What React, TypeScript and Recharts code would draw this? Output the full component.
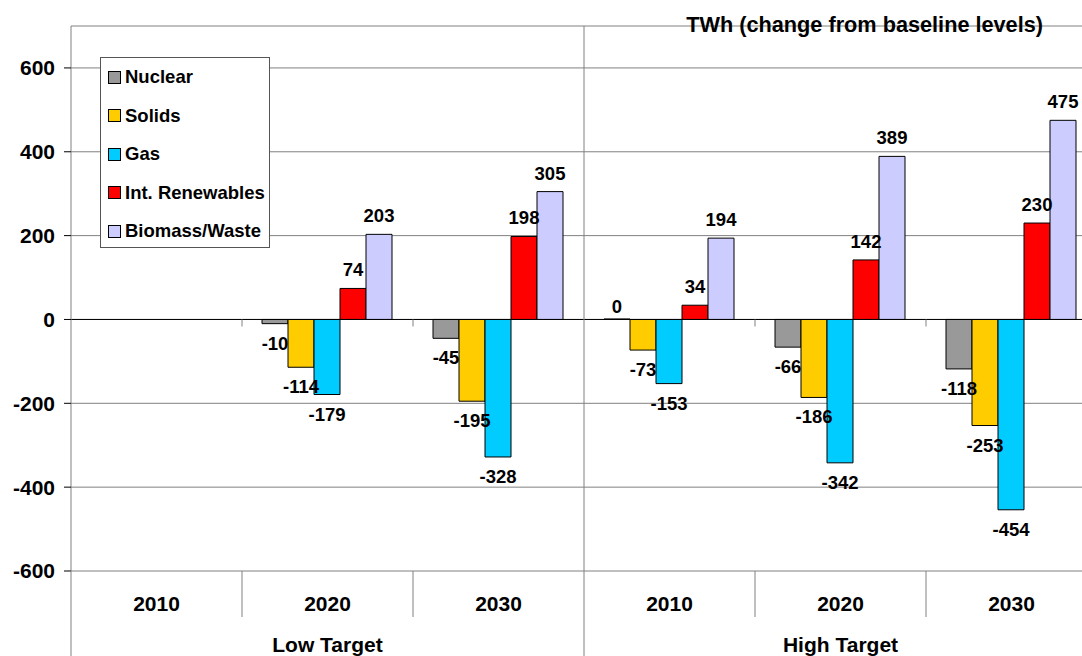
import { BarChart, Bar, XAxis, YAxis, CartesianGrid, ReferenceLine, LabelList } from 'recharts';

// categories
const YEARS = ['2010', '2020', '2030', '2010', '2020', '2030'];
const GROUPS = ['Low Target', 'High Target'];

// series values, TWh change from baseline (null = no bar)
const NUCLEAR = [null, -10, -45, 0, -66, -118];
const SOLIDS = [null, -114, -195, -73, -186, -253];
const GAS = [null, -179, -328, -153, -342, -454];
const RENEWABLES = [null, 74, 198, 34, 142, 230];
const BIOMASS = [null, 203, 305, 194, 389, 475];

const Y_TICKS = [-600, -400, -200, 0, 200, 400, 600];
const Y_DOMAIN = [-600, 700];

const SERIES = [
  { key: 'nuclear', name: 'Nuclear', color: '#999999', values: NUCLEAR },
  { key: 'solids', name: 'Solids', color: '#FFCC00', values: SOLIDS },
  { key: 'gas', name: 'Gas', color: '#00CCFF', values: GAS },
  { key: 'renew', name: 'Int. Renewables', color: '#FF0000', values: RENEWABLES },
  { key: 'biomass', name: 'Biomass/Waste', color: '#CCCCFF', values: BIOMASS },
];

const data = YEARS.map((year, i) => {
  const row: any = { id: `c${i}`, year };
  SERIES.forEach((s) => { row[s.key] = s.values[i]; });
  return row;
});

const FONT = '"Liberation Sans", Arial, sans-serif';
const CHART_W = 1110;
const CHART_H = 656;
const MARGIN = { top: 26, right: 13, left: 0, bottom: 0 };
const Y_AXIS_W = 71;
const X_AXIS_H = 85;
const PLOT_TOP = MARGIN.top;
const PLOT_H = CHART_H - MARGIN.top - X_AXIS_H;
const PLOT_W = CHART_W - MARGIN.left - MARGIN.right - Y_AXIS_W;
const BAND = PLOT_W / YEARS.length;
const ZERO_Y = PLOT_TOP + (Y_DOMAIN[1] / (Y_DOMAIN[1] - Y_DOMAIN[0])) * PLOT_H;

const CategoryTick = (props: any) => {
  const { x, y, payload } = props;
  const i = payload.index;
  const left = x - BAND / 2;
  const groupStart = i % 3 === 0;
  return (
    <g>
      {groupStart ? (
        <line x1={left} x2={left} y1={i === 0 ? y : PLOT_TOP} y2={CHART_H} stroke="#808080" />
      ) : (
        <>
          <line x1={left} x2={left} y1={y} y2={y + 46} stroke="#808080" />
          <line x1={left} x2={left} y1={ZERO_Y} y2={ZERO_Y + 7} stroke="#808080" />
        </>
      )}
      <text x={x} y={y + 40} textAnchor="middle" fontSize={21} fontWeight="bold" fontFamily={FONT} fill="#000">
        {YEARS[i]}
      </text>
      {i % 3 === 1 && (
        <text x={x} y={y + 81} textAnchor="middle" fontSize={21} fontWeight="bold" fontFamily={FONT} fill="#000">
          {GROUPS[Math.floor(i / 3)]}
        </text>
      )}
    </g>
  );
};

const ValueLabel = (props: any) => {
  const vb = props.viewBox || {};
  const x = vb.x ?? props.x;
  const y = vb.y ?? props.y;
  const width = vb.width ?? props.width;
  const height = vb.height ?? props.height;
  const value = props.value;
  if (value === null || value === undefined || x === undefined) return null;
  const top = Math.min(y, y + height);
  const bottom = Math.max(y, y + height);
  let ty = top - 12;
  if (value < 0) ty = bottom + 26;
  if (value === 0) ty = bottom - 6;
  return (
    <text x={x + width / 2} y={ty} textAnchor="middle" fontSize={18.5} fontWeight="bold" fontFamily={FONT} fill="#000">
      {value}
    </text>
  );
};

// zero-valued bars get a hairline so their label is still placed
const minSize = (value: any) => (value === 0 ? 0.5 : 0);

const App = () => {
  return (
    <div style={styles.wrap}>
      <BarChart width={CHART_W} height={CHART_H} data={data} margin={MARGIN} barGap={0} barCategoryGap={20}>
        <CartesianGrid vertical={false} stroke="#808080" />
        <XAxis
          dataKey="id"
          height={X_AXIS_H}
          interval={0}
          axisLine={false}
          tickLine={false}
          tickSize={0}
          tickMargin={0}
          tick={<CategoryTick />}
        />
        <YAxis
          width={Y_AXIS_W}
          domain={Y_DOMAIN}
          ticks={Y_TICKS}
          allowDataOverflow
          axisLine={{ stroke: '#808080' }}
          tickLine={{ stroke: '#000' }}
          tickSize={7}
          tickMargin={9}
          tick={{ fontSize: 21, fontWeight: 'bold', fontFamily: FONT, fill: '#000' }}
        />
        {SERIES.map((s) => (
          <Bar key={s.key} dataKey={s.key} name={s.name} fill={s.color} stroke="#000" strokeWidth={1} minPointSize={minSize} isAnimationActive={false}>
            <LabelList dataKey={s.key} content={<ValueLabel />} />
          </Bar>
        ))}
        <ReferenceLine y={0} stroke="#000" />
      </BarChart>

      {/* legend box */}
      <div style={styles.legend}>
        {SERIES.map((s) => (
          <div key={s.key} style={styles.legendRow}>
            <span style={{ ...styles.swatch, backgroundColor: s.color }} />
            <span>{s.name}</span>
          </div>
        ))}
      </div>

      <div style={styles.title}>TWh (change from baseline levels)</div>
    </div>
  );
};

const styles: any = {
  wrap: { position: 'absolute', left: 0, top: 0, width: 1082, height: 656, overflow: 'hidden', background: '#fff', fontFamily: FONT },
  legend: { position: 'absolute', left: 100, top: 57, width: 168, height: 189, border: '1px solid #555', background: '#fff', boxSizing: 'content-box' },
  legendRow: { height: 38.5, display: 'flex', alignItems: 'center', paddingLeft: 7, fontSize: 18.5, fontWeight: 'bold', color: '#000' },
  swatch: { display: 'inline-block', width: 11, height: 11, border: '1px solid #000', marginRight: 4 },
  title: { position: 'absolute', right: 39, top: 14, fontSize: 21.7, lineHeight: '22px', fontWeight: 'bold', color: '#000', whiteSpace: 'nowrap' },
};

export default App;
